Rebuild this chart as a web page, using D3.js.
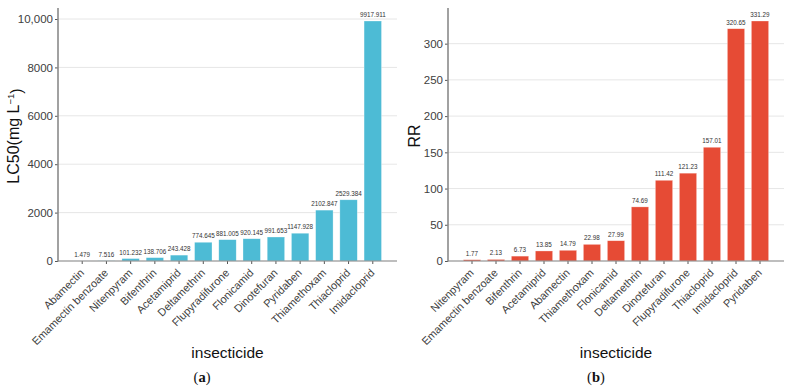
<!DOCTYPE html>
<html>
<head>
<meta charset="utf-8">
<script src="https://cdn.jsdelivr.net/npm/d3@7"></script>
<style>
  body { margin: 0; background: #fff; }
  text { font-family: "Liberation Sans", Arial, Helvetica, sans-serif; }
</style>
</head>
<body>
<script>
// panel (a): LC50
var lcNames = ["Abamectin", "Emamectin benzoate", "Nitenpyram", "Bifenthrin", "Acetamiprid",
  "Deltamethrin", "Flupyradifurone", "Flonicamid", "Dinotefuran", "Pyridaben",
  "Thiamethoxam", "Thiacloprid", "Imidacloprid"];
var lcValues = [1.479, 7.516, 101.232, 138.706, 243.428, 774.645, 881.005, 920.145,
  991.653, 1147.928, 2102.847, 2529.384, 9917.911];
var lcTicks = [0, 2000, 4000, 6000, 8000, 10000];
var lcTickLabels = ["0", "2000", "4000", "6000", "8000", "10,000"];

// panel (b): RR
var rrNames = ["Nitenpyram", "Emamectin benzoate", "Bifenthrin", "Acetamiprid", "Abamectin",
  "Thiamethoxam", "Flonicamid", "Deltamethrin", "Dinotefuran", "Flupyradifurone",
  "Thiacloprid", "Imidacloprid", "Pyridaben"];
var rrValues = [1.77, 2.13, 6.73, 13.85, 14.79, 22.98, 27.99, 74.69, 111.42, 121.23,
  157.01, 320.65, 331.29];
var rrTicks = [0, 50, 100, 150, 200, 250, 300];
var rrTickLabels = ["0", "50", "100", "150", "200", "250", "300"];

var svg = d3.select("body").append("svg")
  .attr("width", 791)
  .attr("height", 391);

function panel(opt) {
  var g = svg.append("g");
  var top = 9, bottom = 261;

  var x = d3.scaleBand()
    .domain(opt.names)
    .range([opt.left, opt.right])
    .paddingInner(0.28)
    .paddingOuter(0.64);

  var y = d3.scaleLinear()
    .domain([0, d3.max(opt.values) * 1.05])
    .range([bottom, top]);

  // grid
  g.selectAll("line.grid")
    .data(opt.ticks)
    .enter().append("line")
    .attr("class", "grid")
    .attr("x1", opt.left).attr("x2", opt.right)
    .attr("y1", function(d) { return y(d); })
    .attr("y2", function(d) { return y(d); })
    .attr("stroke", "#e3e3e3")
    .attr("stroke-width", 0.9);

  // bars
  g.selectAll("rect")
    .data(opt.values)
    .enter().append("rect")
    .attr("x", function(d, i) { return x(opt.names[i]); })
    .attr("y", function(d) { return y(d); })
    .attr("width", x.bandwidth())
    .attr("height", function(d) { return bottom - y(d); })
    .attr("fill", opt.color)
    .attr("stroke", "#ffffff")
    .attr("stroke-opacity", 0.5)
    .attr("stroke-width", 0.6);

  // value labels
  g.selectAll("text.val")
    .data(opt.values)
    .enter().append("text")
    .attr("class", "val")
    .attr("x", function(d, i) { return x(opt.names[i]) + x.bandwidth() / 2; })
    .attr("y", function(d) { return y(d) - 4; })
    .attr("text-anchor", "middle")
    .attr("font-size", "6.3px")
    .attr("fill", "#333")
    .text(function(d, i) { return opt.labels[i]; });

  // y axis
  var yAxis = d3.axisLeft(y)
    .tickValues(opt.ticks)
    .tickFormat(function(d, i) { return opt.tickLabels[i]; })
    .tickSize(3)
    .tickPadding(2);
  var ya = g.append("g")
    .attr("transform", "translate(" + opt.left + ",0)")
    .call(yAxis);
  ya.select(".domain").remove();
  ya.selectAll(".tick line").attr("stroke", "#555");
  ya.selectAll(".tick text").attr("font-size", "11.5px").attr("fill", "#404040");
  g.append("line")
    .attr("x1", opt.left).attr("x2", opt.left)
    .attr("y1", top - 1).attr("y2", bottom + 0.5)
    .attr("stroke", "#8a8a8a").attr("stroke-width", 1.6);

  // x axis
  var xAxis = d3.axisBottom(x).tickSize(3).tickFormat("");
  var xa = g.append("g")
    .attr("transform", "translate(0," + bottom + ")")
    .call(xAxis);
  xa.select(".domain").remove();
  xa.selectAll(".tick line").attr("stroke", "#555");
  g.append("line")
    .attr("x1", opt.left).attr("x2", opt.right)
    .attr("y1", bottom).attr("y2", bottom)
    .attr("stroke", "#8a8a8a").attr("stroke-width", 1.2);

  g.selectAll("text.xl")
    .data(opt.names)
    .enter().append("text")
    .attr("class", "xl")
    .attr("transform", function(d) {
      return "translate(" + (x(d) + x.bandwidth() / 2 - 3) + "," + (bottom + 7) + ") rotate(-45)";
    })
    .attr("text-anchor", "end")
    .attr("dy", "0.71em")
    .attr("font-size", "10.9px")
    .attr("fill", "#404040")
    .text(function(d) { return d; });

  // titles
  var cx = (opt.left + opt.right) / 2;
  g.append("text")
    .attr("x", cx).attr("y", 358)
    .attr("text-anchor", "middle")
    .attr("font-size", "15.5px")
    .attr("fill", "#111")
    .text("insecticide");

  var yt = g.append("text")
    .attr("transform", "translate(" + opt.ytx + ",136) rotate(-90)")
    .attr("text-anchor", "middle")
    .attr("font-size", "16px")
    .attr("fill", "#111");
  opt.ytitle(yt);

  var cap = g.append("text")
    .attr("x", opt.capx).attr("y", 382)
    .attr("text-anchor", "middle")
    .attr("font-size", "14.5px")
    .attr("fill", "#111")
    .style("font-family", "'Liberation Serif', 'Times New Roman', serif");
  cap.append("tspan").text("(");
  cap.append("tspan").attr("font-weight", "bold").text(opt.letter);
  cap.append("tspan").text(")");
}

panel({
  names: lcNames, values: lcValues,
  labels: lcValues.map(function(v) { return v.toFixed(3); }),
  ticks: lcTicks, tickLabels: lcTickLabels,
  left: 58, right: 397, color: "#4DBBD5",
  ytx: 19, capx: 202, letter: "a",
  ytitle: function(t) {
    t.append("tspan").text("LC50(mg L");
    t.append("tspan").attr("dy", "-0.5em").attr("font-size", "9.5px").text("\u22121");
    t.append("tspan").attr("dy", "0.5em").text(")");
  }
});

panel({
  names: rrNames, values: rrValues,
  labels: rrValues.map(function(v) { return v.toFixed(2); }),
  ticks: rrTicks, tickLabels: rrTickLabels,
  left: 448, right: 784, color: "#E64B35",
  ytx: 420, capx: 596, letter: "b",
  ytitle: function(t) { t.text("RR"); }
});
</script>
</body>
</html>
